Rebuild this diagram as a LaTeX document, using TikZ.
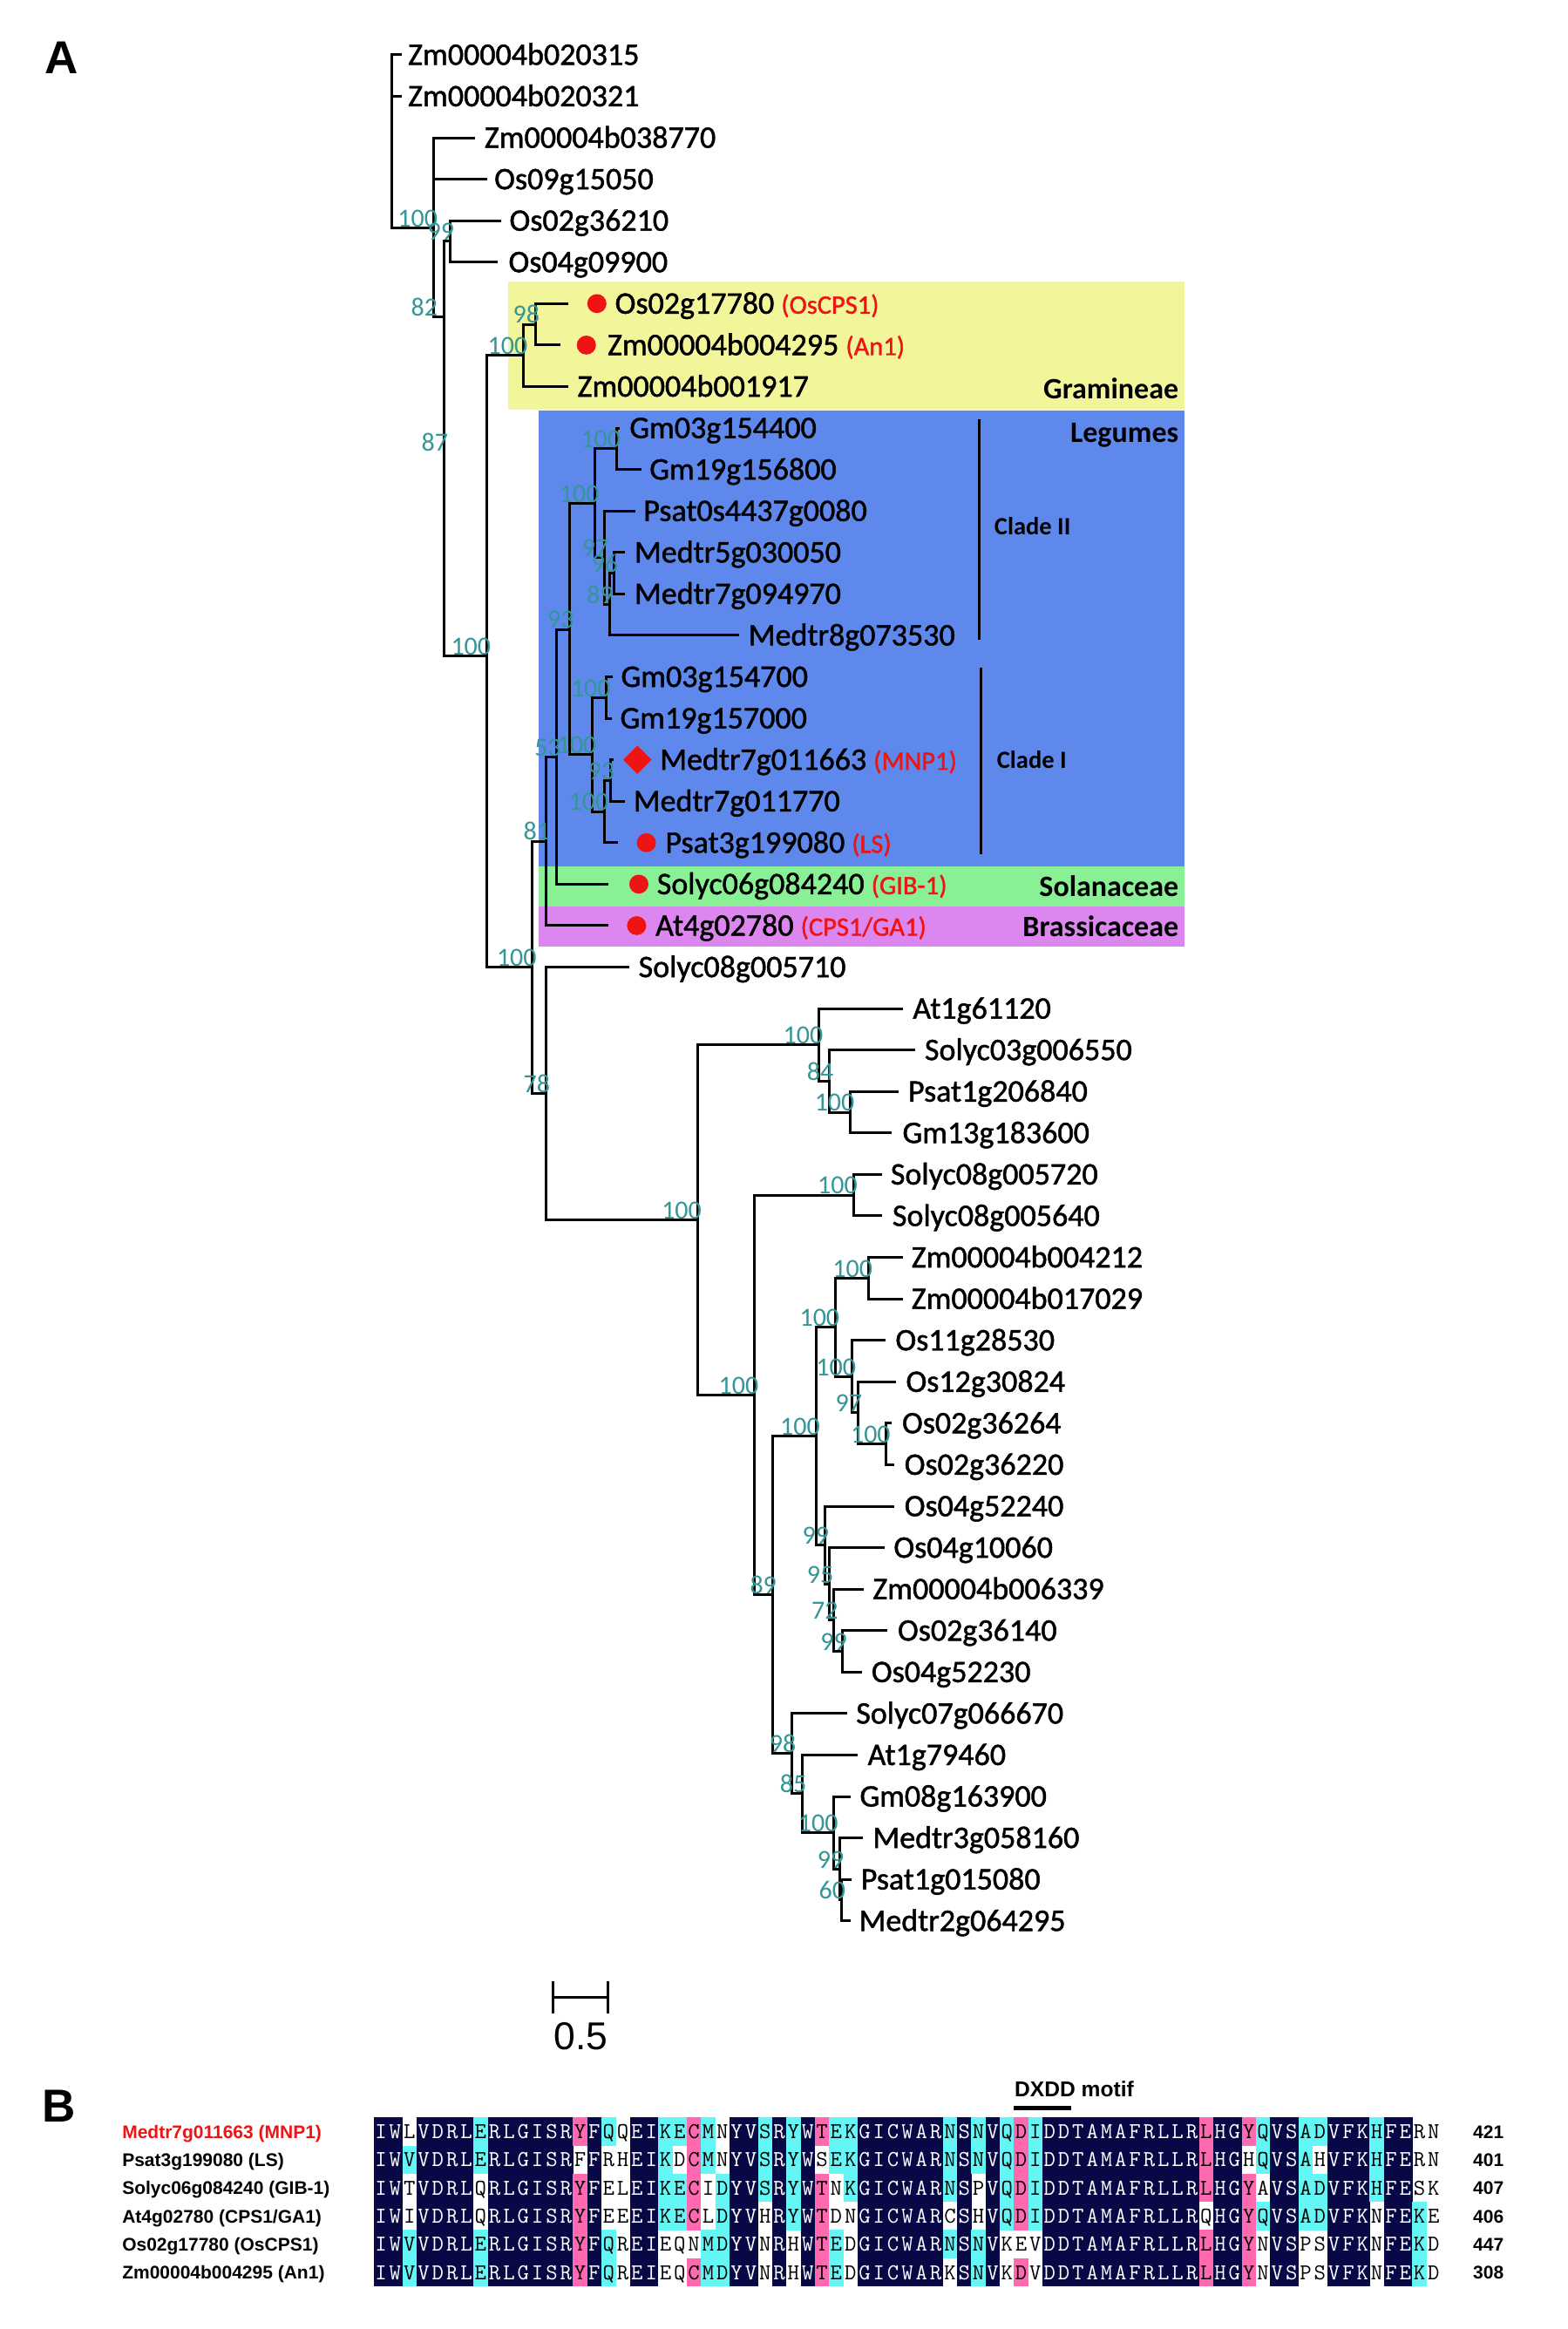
\documentclass[tikz,border=0pt]{standalone}
\usepackage{fontspec}
\setmainfont{Carlito}
\newfontfamily\tipf{Carlito}[FakeBold=1.3]
\newfontfamily\arialf{Liberation Sans}
\usetikzlibrary{calc}
\definecolor{bsteal}{RGB}{52,150,150}
\definecolor{gramy}{RGB}{243,245,155}
\definecolor{legb}{RGB}{94,136,236}
\definecolor{solg}{RGB}{138,240,150}
\definecolor{brasm}{RGB}{220,135,240}
\definecolor{mred}{RGB}{238,20,20}
\definecolor{alnavy}{RGB}{8,8,70}
\definecolor{alcyan}{RGB}{100,245,245}
\definecolor{alpink}{RGB}{255,105,175}
\def\tipsize{\tipf\fontsize{36}{40}\selectfont}
\def\bssize{\fontsize{30}{30}\selectfont}
\def\redsize{\fontsize{30.5}{30}\selectfont}
\def\grpsize{\fontsize{34}{36}\selectfont\bfseries}
\def\cladesize{\fontsize{28.5}{30}\selectfont\bfseries}
\def\almono{\ttfamily\addfontfeature{FakeBold=1.6}\fontsize{26}{26}\selectfont}
\def\alfont{\arialf\bfseries\fontsize{21}{22}\selectfont}
\newcount\alcol
\def\alrow#1#2#3#4{\alcol=0 \def\alr{#1}\def\aly{#2}\alloop#3\relax#4\relax}
\def\alloop#1#2\relax#3#4\relax{\advance\alcol by 1 \alcell{#1}{#3}\ifx\relax#2\relax\else\alloop#2\relax#4\relax\fi}
\def\alcell#1#2{%
 \pgfmathsetmacro\alx{249.3+(\the\alcol-1)*9.486}%
 \pgfmathsetmacro\alxr{\alx+9.536}%
 \pgfmathsetmacro\alxc{\alx+4.743}%
 \pgfmathsetmacro\alyt{\aly-9.56}%
 \pgfmathsetmacro\alyb{\aly+9.56}%
 \pgfmathsetmacro\alyl{\aly+4.7}%
 \ifx#2w\else\fill[alf#2] (\alx,\alyt) rectangle (\alxr,\alyb);\fi
 \node[alletter,alt#2] (a\alr-\the\alcol) at (\alxc,\alyl) {#1};}
\tikzset{
 br/.style={line width=3pt},
 tipst/.style={anchor=base west, inner sep=0pt, font=\tipsize},
 bsst/.style={anchor=south east, inner sep=0pt, xshift=5pt, yshift=0.8pt, font=\bssize, text=bsteal},
 grp/.style={anchor=base east, inner sep=0pt, font=\grpsize},
 clade/.style={anchor=base, inner sep=0pt, font=\cladesize},
 alletter/.style={anchor=base, inner sep=0pt, font=\almono},
 altn/.style={text=white}, altc/.style={text=black}, altp/.style={text=black}, altw/.style={text=black},
 alfn/.style={fill=alnavy}, alfc/.style={fill=alcyan}, alfp/.style={fill=alpink},
 allab/.style={anchor=base west, inner sep=0pt, font=\alfont},
}
\newcommand\tipnode[4]{\node[tipst] (#1) at (#2,{#3+6.8}) {#4};}
\newcommand\redl[1]{{\color{mred}\redsize #1}}
\begin{document}
\begin{tikzpicture}[x=1.7206pt,y=-1.6991pt]
\fill[white] (0,0) rectangle (1045,1572.6);
\useasboundingbox (0,0) rectangle (1045,1572.6);
% panel letters
\node[anchor=base, inner sep=0pt, font=\arialf\bfseries\fontsize{53}{53}\selectfont] (pA) at (41.3,49.9) {A};
\node[anchor=base, inner sep=0pt, font=\arialf\bfseries\fontsize{53}{53}\selectfont] (pB) at (39.5,1433) {B};
% group boxes
\fill[gramy] (339,190) rectangle (790,276.5);
\fill[legb] (359,277) rectangle (790,585);
\fill[solg] (359,585) rectangle (790,612);
\fill[brasm] (359,612) rectangle (790,639);
\node[grp] (gGram) at (786,269.5) {Gramineae};
\node[grp] (gLeg) at (786,298.4) {Legumes};
\node[grp] (gSol) at (786,605.4) {Solanaceae};
\node[grp] (gBra) at (786,632.4) {Brassicaceae};
\node[clade] (cII) at (688.5,361.3) {Clade II};
\node[clade] (cI) at (688,519) {Clade I};
\coordinate (c2t) at (653,283); \coordinate (c2b) at (653,432);
\coordinate (c1t) at (654,451); \coordinate (c1b) at (654,577);
\draw[br] (c2t) -- (c2b);
\draw[br] (c1t) -- (c1b);
% internal nodes
\coordinate (R) at (261,95);
\coordinate (N1) at (289,154);
\coordinate (N87) at (296,214);
\coordinate (N99) at (300,163);
\coordinate (N5) at (324.5,443);
\coordinate (NG) at (349,240);
\coordinate (N98) at (357,219);
\coordinate (N6) at (355,653);
\coordinate (N81) at (364,568);
\coordinate (N53) at (371.3,511);
\coordinate (N93) at (380,425);
\coordinate (N100a) at (396.8,339.75);
\coordinate (NGm1) at (411,303);
\coordinate (N97) at (403,376.5);
\coordinate (N89) at (406.3,408);
\coordinate (N96) at (409.5,387);
\coordinate (N100b) at (395,509.5);
\coordinate (NGm2) at (404.4,471);
\coordinate (N100e) at (403,548);
\coordinate (N93b) at (407,527);
\coordinate (N7) at (364,738.4);
\coordinate (N8) at (465,823.75);
\coordinate (N9) at (546,705.5);
\coordinate (N10) at (553,730);
\coordinate (N11) at (567,751);
\coordinate (N12) at (503,942);
\coordinate (N13) at (569,807);
\coordinate (N15) at (515,1077);
\coordinate (N16) at (544,969.5);
\coordinate (N17) at (557,896);
\coordinate (N18) at (579,863);
\coordinate (N19) at (568,929.5);
\coordinate (N19b) at (572,954);
\coordinate (N19c) at (591,975);
\coordinate (N21) at (550,1043);
\coordinate (N22) at (553,1069.5);
\coordinate (N23) at (556,1094);
\coordinate (N24) at (562,1115);
\coordinate (N20) at (528,1184);
\coordinate (N25) at (535,1211);
\coordinate (N26) at (556,1237.5);
\coordinate (N27) at (560,1262);
\coordinate (N28) at (561,1283);
\coordinate (L82) at (289,214);
\coordinate (L87) at (296,305);
% stub ends
\foreach \i/\x/\y in {1/268/37,2/268/65,3/317/93,4/324.6/121,5/334/149,6/332/177,7/379/205,8/373.5/233,9/379/261,10/413.5/289,11/427.7/317,12/423.5/345,13/416.5/373,14/416.5/401,15/493/429,16/408.6/457,17/408/485,18/409/513,19/416.5/541,20/411.8/569,21/405.4/597,22/405.4/625,23/419.4/653,24/602/681,25/610/709,26/599/737,27/594.4/765,28/588/793,29/588/821,30/602/849,31/602/877,32/590.7/905,33/597.6/933,34/594.4/961,35/596.4/989,36/596.4/1017,37/589.8/1045,38/575.8/1073,39/591.6/1101,40/574.8/1129,41/564.8/1157,42/572/1185,43/567/1213,44/575.3/1241,45/568/1269,46/567/1297}
  {\coordinate (s\i) at (\x,\y);}
% branches
\foreach \p/\c in {R/s1,R/s2,R/N1,N1/s3,N1/s4,N1/N87,N87/N99,N87/N5,N99/s5,N99/s6,N5/NG,N5/N6,NG/N98,NG/s9,N98/s7,N98/s8,N6/N81,N6/N7,N81/N53,N81/s22,N53/N93,N53/s21,N93/N100a,N93/N100b,N100a/NGm1,N100a/N97,NGm1/s10,NGm1/s11,N97/s12,N97/N89,N89/N96,N89/s15,N96/s13,N96/s14,N100b/NGm2,N100b/N100e,NGm2/s16,NGm2/s17,N100e/N93b,N100e/s20,N93b/s18,N93b/s19,N7/s23,N7/N8,N8/N9,N8/N12,N9/s24,N9/N10,N10/s25,N10/N11,N11/s26,N11/s27,N12/N13,N12/N15,N13/s28,N13/s29,N15/N16,N15/N20,N16/N17,N16/N21,N17/N18,N17/N19,N18/s30,N18/s31,N19/s32,N19/N19b,N19b/s33,N19b/N19c,N19c/s34,N19c/s35,N21/s36,N21/N22,N22/s37,N22/N23,N23/s38,N23/N24,N24/s39,N24/s40,N20/s41,N20/N25,N25/s42,N25/N26,N26/s43,N26/N27,N27/s44,N27/N28,N28/s45,N28/s46}
  {\draw[br] (\p) |- (\c);}
% bootstrap values
\foreach \n/\t [count=\k] in {N1/100,L82/82,L87/87,N99/99,N5/100,NG/100,N98/98,N6/100,N81/81,N53/53,N93/93,N100a/100,NGm1/100,N97/97,N89/89,N96/96,N100b/100,NGm2/100,N100e/100,N93b/93,N7/78,N8/100,N9/100,N10/84,N11/100,N12/100,N13/100,N15/89,N16/100,N17/100,N18/100,N19/100,N19b/97,N19c/100,N21/99,N22/95,N23/72,N24/99,N20/98,N25/85,N26/100,N27/99,N28/60}
  {\node[bsst] (b\k) at (\n) {\t};}
% markers
\fill[mred] (398,205) circle[radius=6.4];
\fill[mred] (391,233) circle[radius=6.4];
\fill[mred] (425,503.5) -- (434.5,513) -- (425,522.5) -- (415.5,513) -- cycle;
\fill[mred] (431,569) circle[radius=6.4];
\fill[mred] (426,597) circle[radius=6.4];
\fill[mred] (424.5,625) circle[radius=6.4];
% tip labels
\tipnode{t1}{272}{37}{Zm00004b020315}
\tipnode{t2}{272}{65}{Zm00004b020321}
\tipnode{t3}{323}{93}{Zm00004b038770}
\tipnode{t4}{329.5}{121}{Os09g15050}
\tipnode{t5}{339.6}{149}{Os02g36210}
\tipnode{t6}{339}{177}{Os04g09900}
\tipnode{t7}{410}{205}{Os02g17780 \redl{(OsCPS1)}}
\tipnode{t8}{405}{233}{Zm00004b004295 \redl{(An1)}}
\tipnode{t9}{385}{261}{Zm00004b001917}
\tipnode{t10}{419.7}{289}{Gm03g154400}
\tipnode{t11}{433}{317}{Gm19g156800}
\tipnode{t12}{429}{345}{Psat0s4437g0080}
\tipnode{t13}{423}{373}{Medtr5g030050}
\tipnode{t14}{423}{401}{Medtr7g094970}
\tipnode{t15}{499}{429}{Medtr8g073530}
\tipnode{t16}{414}{457}{Gm03g154700}
\tipnode{t17}{413.4}{485}{Gm19g157000}
\tipnode{t18}{440}{513}{Medtr7g011663 \redl{(MNP1)}}
\tipnode{t19}{422.3}{541}{Medtr7g011770}
\tipnode{t20}{443.6}{569}{Psat3g199080 \redl{(LS)}}
\tipnode{t21}{438}{597}{Solyc06g084240 \redl{(GIB-1)}}
\tipnode{t22}{437}{625}{At4g02780 \redl{(CPS1/GA1)}}
\tipnode{t23}{425.7}{653}{Solyc08g005710}
\tipnode{t24}{608.6}{681}{At1g61120}
\tipnode{t25}{616.5}{709}{Solyc03g006550}
\tipnode{t26}{605.5}{737}{Psat1g206840}
\tipnode{t27}{601.7}{765}{Gm13g183600}
\tipnode{t28}{593.8}{793}{Solyc08g005720}
\tipnode{t29}{595}{821}{Solyc08g005640}
\tipnode{t30}{607.7}{849}{Zm00004b004212}
\tipnode{t31}{607.7}{877}{Zm00004b017029}
\tipnode{t32}{597}{905}{Os11g28530}
\tipnode{t33}{604}{933}{Os12g30824}
\tipnode{t34}{601.4}{961}{Os02g36264}
\tipnode{t35}{603}{989}{Os02g36220}
\tipnode{t36}{603}{1017}{Os04g52240}
\tipnode{t37}{595.8}{1045}{Os04g10060}
\tipnode{t38}{581.9}{1073}{Zm00004b006339}
\tipnode{t39}{598.5}{1101}{Os02g36140}
\tipnode{t40}{581}{1129}{Os04g52230}
\tipnode{t41}{570.8}{1157}{Solyc07g066670}
\tipnode{t42}{578.5}{1185}{At1g79460}
\tipnode{t43}{573.2}{1213}{Gm08g163900}
\tipnode{t44}{581.9}{1241}{Medtr3g058160}
\tipnode{t45}{574}{1269}{Psat1g015080}
\tipnode{t46}{572.7}{1297}{Medtr2g064295}
% scale bar
\coordinate (sbL) at (369,1348.8); \coordinate (sbR) at (405.3,1348.8);
\coordinate (sbLt) at (369,1337.8); \coordinate (sbLb) at (369,1359.8);
\coordinate (sbRt) at (405.3,1337.8); \coordinate (sbRb) at (405.3,1359.8);
\draw[br] (sbL) -- (sbR);
\draw[br] (sbLt) -- (sbLb);
\draw[br] (sbRt) -- (sbRb);
\node[anchor=base, inner sep=0pt, font=\arialf\fontsize{44.5}{45}\selectfont] (sbT) at (387.3,1384.1) {0.5};
% panel B alignment
\node[anchor=base west, inner sep=0pt, font=\arialf\bfseries\fontsize{24.6}{25}\selectfont] (motif) at (676.5,1415.8) {DXDD motif};
\coordinate (mbL) at (676.2,1423.3); \coordinate (mbR) at (714.1,1423.3);
\draw[line width=4.6pt] (mbL) -- (mbR);
\alrow{1}{1439.2}{IWLVDRLERLGISRYFQQEIKECMNYVSRYWTEKGICWARNSNVQDIDDTAMAFRLLRLHGYQVSADVFKHFERN}{nnwnnnncnnnnnnpncwnnccpcwnncncnpccnnnnnncncncpcnnnnnnnnnnnpnnpcnnccnnncnnww}
\alrow{2}{1458.3}{IWVVDRLERLGISRFFRHEIKDCMNYVSRYWSEKGICWARNSNVQDIDDTAMAFRLLRLHGHQVSAHVFKHFERN}{nncnnnncnnnnnnwnwwnncwpcwnncncnwccnnnnnncncncpcnnnnnnnnnnnpnnwcnncwnnncnnww}
\alrow{3}{1477.3}{IWTVDRLQRLGISRYFELEIKECIDYVSRYWTNKGICWARNSPVQDIDDTAMAFRLLRLHGYAVSADVFKHFESK}{nnwnnnnwnnnnnnpnwwnnccpwcnncncnpwcnnnnnncnwncpcnnnnnnnnnnnpnnpwnnccnnncnnww}
\alrow{4}{1496.3}{IWIVDRLQRLGISRYFEEEIKECLDYVHRYWTDNGICWARCSHVQDIDDTAMAFRLLRQHGYQVSADVFKNFEKE}{nnwnnnnwnnnnnnpnwwnnccpwcnnwncnpwwnnnnnnwnwncpcnnnnnnnnnnnwnnpcnnccnnnwnncw}
\alrow{5}{1515.3}{IWVVDRLERLGISRYFQREIEQNMDYVNRHWTEDGICWARNSNVKEVDDTAMAFRLLRLHGYNVSPSVFKNFEKD}{nncnnnncnnnnnnpncwnnwwwccnnwnwnpcwnnnnnncncnwwwnnnnnnnnnnnpnnpwnnwwnnnwnncw}
\alrow{6}{1534.4}{IWVVDRLERLGISRYFQREIEQCMDYVNRHWTEDGICWARKSNVKDVDDTAMAFRLLRLHGYNVSPSVFKNFEKD}{nncnnnncnnnnnnpncwnnwwpccnnwnwnpcwnnnnnnwncnwpwnnnnnnnnnnnpnnpwnnwwnnnwnncw}
\node[allab, text=mred] (r1) at (81.4,1443.7) {Medtr7g011663 (MNP1)};
\node[allab] (r2) at (81.4,1462.8) {Psat3g199080 (LS)};
\node[allab] (r3) at (81.4,1481.8) {Solyc06g084240 (GIB-1)};
\node[allab] (r4) at (81.4,1500.8) {At4g02780 (CPS1/GA1)};
\node[allab] (r5) at (81.4,1519.8) {Os02g17780 (OsCPS1)};
\node[allab] (r6) at (81.4,1538.9) {Zm00004b004295 (An1)};
\node[allab] (n1) at (982.2,1443.7) {421};
\node[allab] (n2) at (982.2,1462.8) {401};
\node[allab] (n3) at (982.2,1481.8) {407};
\node[allab] (n4) at (982.2,1500.8) {406};
\node[allab] (n5) at (982.2,1519.8) {447};
\node[allab] (n6) at (982.2,1538.9) {308};
\end{tikzpicture}
\end{document}
